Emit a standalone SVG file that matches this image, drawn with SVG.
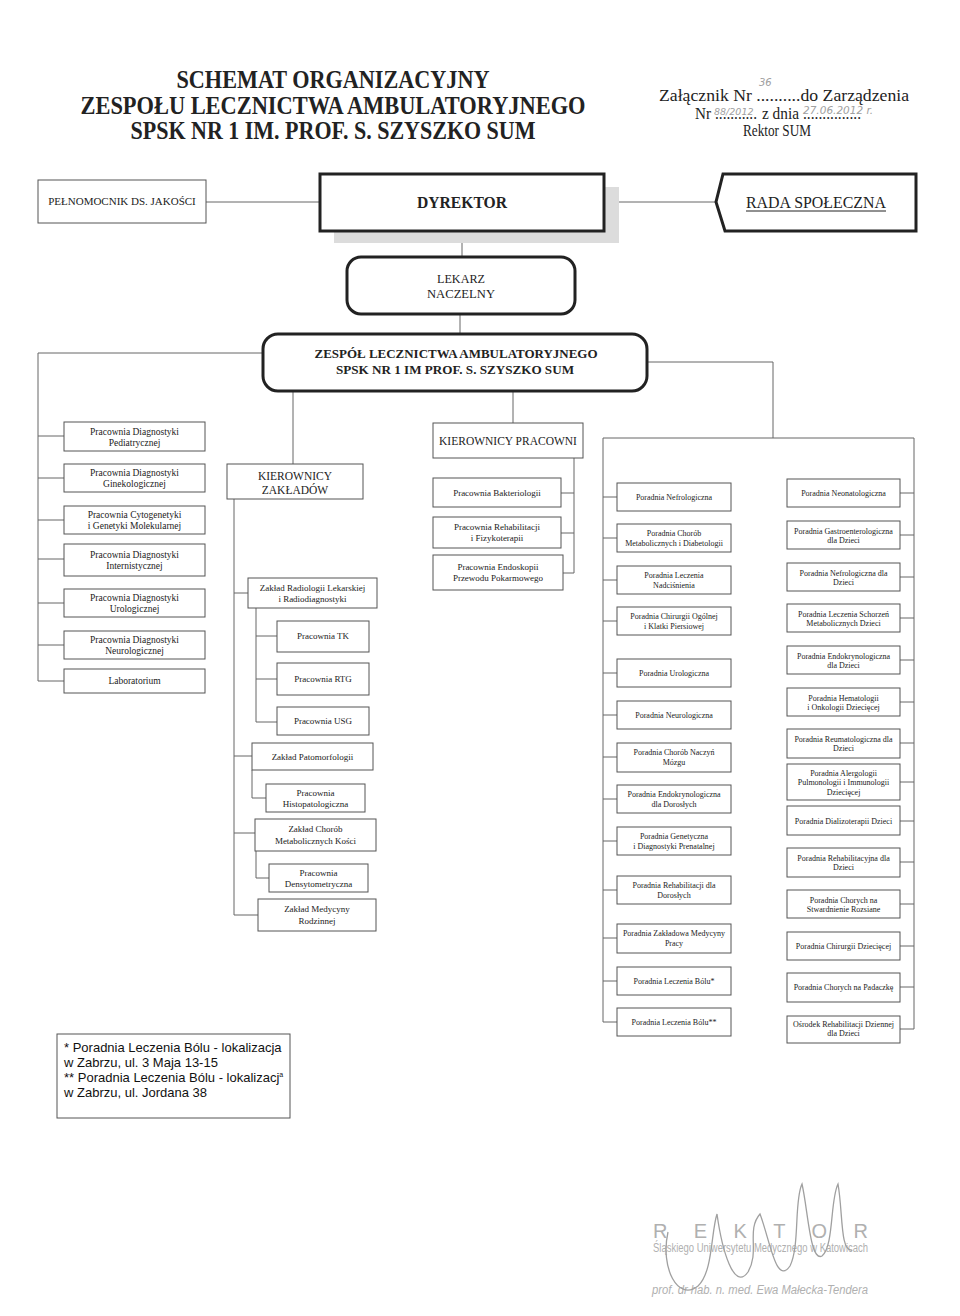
<svg xmlns="http://www.w3.org/2000/svg" width="960" height="1316" viewBox="0 0 960 1316">
<style>
.bx{fill:#fff;stroke:#555;stroke-width:1}
.tk{fill:#fff;stroke:#222;stroke-width:3}
.s{font-family:"Liberation Serif","Times New Roman",serif;fill:#222;text-anchor:middle}
.h{font-family:"Liberation Serif","Times New Roman",serif;fill:#222;font-size:17px}
.f8{font-size:8px}.f9{font-size:9px}.f95{font-size:9.5px}
.c line,.c polyline{stroke:#666;stroke-width:1;fill:none}
.hw{font-family:"DejaVu Sans",sans-serif;font-style:italic;fill:#a0a0a0}
.st{font-family:"Liberation Sans",Arial,sans-serif;fill:#b0b0b0}
</style>
<rect width="960" height="1316" fill="#fff"/>
<g id="header">
<text class="s" x="333" y="88" font-size="25" font-weight="bold" textLength="313" lengthAdjust="spacingAndGlyphs">SCHEMAT  ORGANIZACYJNY</text>
<text class="s" x="333" y="114" font-size="25" font-weight="bold" textLength="505" lengthAdjust="spacingAndGlyphs">ZESPOŁU LECZNICTWA AMBULATORYJNEGO</text>
<text class="s" x="333" y="139" font-size="25" font-weight="bold" textLength="405" lengthAdjust="spacingAndGlyphs">SPSK NR 1 IM. PROF. S. SZYSZKO SUM</text>
<text class="s" x="784" y="101" font-size="17" textLength="250" lengthAdjust="spacingAndGlyphs">Załącznik Nr ..........do Zarządzenia</text>
<text class="h" x="695" y="119" textLength="16" lengthAdjust="spacingAndGlyphs">Nr</text>
<text class="h" x="715" y="119" textLength="42" lengthAdjust="spacingAndGlyphs">...........</text>
<text class="h" x="762" y="119" textLength="37" lengthAdjust="spacingAndGlyphs">z dnia</text>
<text class="h" x="803" y="119" textLength="58" lengthAdjust="spacingAndGlyphs">...............</text>
<text class="s" x="777" y="136" font-size="17" textLength="68" lengthAdjust="spacingAndGlyphs">Rektor SUM</text>
<text class="hw" x="759" y="86" font-size="10">36</text>
<text class="hw" x="714" y="115" font-size="9.5">88/2012</text>
<text class="hw" x="803" y="114" font-size="10.5">27.06.2012 r.</text>
</g>
<g class="c" id="connectors">
<line x1="206" y1="202" x2="320" y2="202"/>
<line x1="604" y1="202" x2="716" y2="202"/>
<line x1="462" y1="243" x2="462" y2="257"/>
<line x1="460" y1="314" x2="460" y2="334"/>
<polyline points="263,353 38,353 38,681"/>
<polyline points="647,362 773,362 773,438"/>
<line x1="603" y1="438" x2="914" y2="438"/>
<line x1="603" y1="438" x2="603" y2="1022"/>
<line x1="914" y1="438" x2="914" y2="1029"/>
<line x1="293" y1="391" x2="293" y2="464"/>
<line x1="513" y1="391" x2="513" y2="423"/>
<line x1="38" y1="436" x2="64" y2="436"/>
<line x1="38" y1="478" x2="64" y2="478"/>
<line x1="38" y1="520" x2="64" y2="520"/>
<line x1="38" y1="559" x2="64" y2="559"/>
<line x1="38" y1="603" x2="64" y2="603"/>
<line x1="38" y1="645" x2="64" y2="645"/>
<line x1="38" y1="681" x2="64" y2="681"/>
<line x1="234" y1="499" x2="234" y2="915"/>
<line x1="234" y1="593" x2="248" y2="593"/>
<line x1="234" y1="756" x2="252" y2="756"/>
<line x1="234" y1="833" x2="255" y2="833"/>
<line x1="234" y1="915" x2="258" y2="915"/>
<line x1="256" y1="608" x2="256" y2="722"/>
<line x1="256" y1="636" x2="277" y2="636"/>
<line x1="256" y1="679" x2="277" y2="679"/>
<line x1="256" y1="722" x2="277" y2="722"/>
<line x1="252" y1="770" x2="252" y2="798"/>
<line x1="252" y1="798" x2="266" y2="798"/>
<line x1="256" y1="851" x2="256" y2="878"/>
<line x1="256" y1="878" x2="269" y2="878"/>
<line x1="574" y1="458" x2="574" y2="573"/>
<line x1="561" y1="493" x2="574" y2="493"/>
<line x1="561" y1="533" x2="574" y2="533"/>
<line x1="563" y1="573" x2="574" y2="573"/>
<line x1="603" y1="497" x2="617" y2="497"/>
<line x1="603" y1="538" x2="617" y2="538"/>
<line x1="603" y1="580" x2="617" y2="580"/>
<line x1="603" y1="621" x2="617" y2="621"/>
<line x1="603" y1="673" x2="617" y2="673"/>
<line x1="603" y1="715" x2="617" y2="715"/>
<line x1="603" y1="757" x2="617" y2="757"/>
<line x1="603" y1="799" x2="617" y2="799"/>
<line x1="603" y1="841" x2="617" y2="841"/>
<line x1="603" y1="890" x2="617" y2="890"/>
<line x1="603" y1="938" x2="617" y2="938"/>
<line x1="603" y1="981" x2="617" y2="981"/>
<line x1="603" y1="1022" x2="617" y2="1022"/>
<line x1="900" y1="493" x2="914" y2="493"/>
<line x1="900" y1="535" x2="914" y2="535"/>
<line x1="900" y1="577" x2="914" y2="577"/>
<line x1="900" y1="618" x2="914" y2="618"/>
<line x1="900" y1="660" x2="914" y2="660"/>
<line x1="900" y1="702" x2="914" y2="702"/>
<line x1="900" y1="743" x2="914" y2="743"/>
<line x1="900" y1="782" x2="914" y2="782"/>
<line x1="900" y1="821" x2="914" y2="821"/>
<line x1="900" y1="862" x2="914" y2="862"/>
<line x1="900" y1="904" x2="914" y2="904"/>
<line x1="900" y1="946" x2="914" y2="946"/>
<line x1="900" y1="987" x2="914" y2="987"/>
<line x1="900" y1="1029" x2="914" y2="1029"/>
</g>
<g id="pelnomocnik"><rect class="bx" x="38" y="180" width="168" height="43"/><text class="s" x="122" y="205" font-size="11">PEŁNOMOCNIK DS. JAKOŚCI</text></g>
<g id="dyrektor"><rect x="334" y="187" width="285" height="56" fill="#dcdcdc"/><rect class="tk" x="320" y="174" width="284" height="57"/><text class="s" x="462" y="208" font-size="17" font-weight="bold" textLength="90" lengthAdjust="spacingAndGlyphs">DYREKTOR</text></g>
<g id="rada"><polygon class="tk" points="723,174 916,174 916,231 725,231 716,202"/><text class="s" x="816" y="208" font-size="17" textLength="140" lengthAdjust="spacingAndGlyphs">RADA  SPOŁECZNA</text><line x1="746" y1="211" x2="886" y2="211" stroke="#222" stroke-width="1"/></g>
<g id="lekarz"><rect class="tk" x="347" y="257" width="228" height="57" rx="14"/><text class="s" x="461" y="283" font-size="13" textLength="48" lengthAdjust="spacingAndGlyphs">LEKARZ</text><text class="s" x="461" y="298" font-size="13" textLength="68" lengthAdjust="spacingAndGlyphs">NACZELNY</text></g>
<g id="zespol"><rect class="tk" x="263" y="334" width="384" height="57" rx="15"/><text class="s" x="456" y="358" font-size="13" font-weight="bold" textLength="283" lengthAdjust="spacingAndGlyphs">ZESPÓŁ LECZNICTWA AMBULATORYJNEGO</text><text class="s" x="455" y="374" font-size="13" font-weight="bold" textLength="238" lengthAdjust="spacingAndGlyphs">SPSK NR 1 IM PROF. S. SZYSZKO SUM</text></g>

<g id="l1"><rect class="bx" x="64" y="422" width="141" height="29"/><text class="s f95" x="134.5" y="435">Pracownia Diagnostyki</text><text class="s f95" x="134.5" y="446">Pediatrycznej</text></g>
<g id="l2"><rect class="bx" x="64" y="464" width="141" height="28"/><text class="s f95" x="134.5" y="476">Pracownia Diagnostyki</text><text class="s f95" x="134.5" y="487">Ginekologicznej</text></g>
<g id="l3"><rect class="bx" x="64" y="506" width="141" height="28"/><text class="s f95" x="134.5" y="518">Pracownia Cytogenetyki</text><text class="s f95" x="134.5" y="529">i Genetyki Molekularnej</text></g>
<g id="l4"><rect class="bx" x="64" y="544" width="141" height="32"/><text class="s f95" x="134.5" y="558">Pracownia Diagnostyki</text><text class="s f95" x="134.5" y="569">Internistycznej</text></g>
<g id="l5"><rect class="bx" x="64" y="589" width="141" height="28"/><text class="s f95" x="134.5" y="601">Pracownia Diagnostyki</text><text class="s f95" x="134.5" y="612">Urologicznej</text></g>
<g id="l6"><rect class="bx" x="64" y="631" width="141" height="28"/><text class="s f95" x="134.5" y="643">Pracownia Diagnostyki</text><text class="s f95" x="134.5" y="654">Neurologicznej</text></g>
<g id="l7"><rect class="bx" x="64" y="669" width="141" height="24"/><text class="s f95" x="134.5" y="684">Laboratorium</text></g>

<g id="kz"><rect class="bx" x="227" y="464" width="136" height="35"/><text class="s" x="295" y="480" font-size="11.5">KIEROWNICY</text><text class="s" x="295" y="494" font-size="11.5">ZAKŁADÓW</text></g>
<g id="z1"><rect class="bx" x="248" y="578" width="129" height="30"/><text class="s f9" x="312.5" y="591">Zakład Radiologii Lekarskiej</text><text class="s f9" x="312.5" y="602">i Radiodiagnostyki</text></g>
<g id="z1a"><rect class="bx" x="277" y="621" width="92" height="31"/><text class="s f9" x="323" y="639">Pracownia TK</text></g>
<g id="z1b"><rect class="bx" x="277" y="663" width="92" height="32"/><text class="s f9" x="323" y="682">Pracownia RTG</text></g>
<g id="z1c"><rect class="bx" x="277" y="707" width="92" height="28"/><text class="s f9" x="323" y="724">Pracownia USG</text></g>
<g id="z2"><rect class="bx" x="252" y="743" width="121" height="27"/><text class="s f9" x="312.5" y="760">Zakład Patomorfologii</text></g>
<g id="z2a"><rect class="bx" x="266" y="784" width="99" height="28"/><text class="s f9" x="315.5" y="796">Pracownia</text><text class="s f9" x="315.5" y="807">Histopatologiczna</text></g>
<g id="z3"><rect class="bx" x="255" y="819" width="121" height="32"/><text class="s f9" x="315.5" y="832">Zakład Chorób</text><text class="s f9" x="315.5" y="844">Metabolicznych Kości</text></g>
<g id="z3a"><rect class="bx" x="269" y="864" width="99" height="28"/><text class="s f9" x="318.5" y="876">Pracownia</text><text class="s f9" x="318.5" y="887">Densytometryczna</text></g>
<g id="z4"><rect class="bx" x="258" y="899" width="118" height="32"/><text class="s f9" x="317" y="912">Zakład Medycyny</text><text class="s f9" x="317" y="924">Rodzinnej</text></g>

<g id="kp"><rect class="bx" x="433" y="423" width="150" height="35"/><text class="s" x="508" y="445" font-size="11.5">KIEROWNICY PRACOWNI</text></g>
<g id="p1"><rect class="bx" x="433" y="478" width="128" height="29"/><text class="s f9" x="497" y="496">Pracownia Bakteriologii</text></g>
<g id="p2"><rect class="bx" x="433" y="517" width="128" height="31"/><text class="s f9" x="497" y="530">Pracownia Rehabilitacji</text><text class="s f9" x="497" y="541">i Fizykoterapii</text></g>
<g id="p3"><rect class="bx" x="433" y="555" width="130" height="35"/><text class="s f9" x="498" y="570">Pracownia Endoskopii</text><text class="s f9" x="498" y="581">Przewodu Pokarmowego</text></g>

<g id="m1"><rect class="bx" x="617" y="483" width="114" height="28"/><text class="s f8" x="674" y="500">Poradnia Nefrologiczna</text></g>
<g id="m2"><rect class="bx" x="617" y="524" width="114" height="28"/><text class="s f8" x="674" y="536">Poradnia Chorób</text><text class="s f8" x="674" y="546">Metabolicznych i Diabetologii</text></g>
<g id="m3"><rect class="bx" x="617" y="566" width="114" height="28"/><text class="s f8" x="674" y="578">Poradnia Leczenia</text><text class="s f8" x="674" y="588">Nadciśnienia</text></g>
<g id="m4"><rect class="bx" x="617" y="607" width="114" height="28"/><text class="s f8" x="674" y="619">Poradnia Chirurgii Ogólnej</text><text class="s f8" x="674" y="629">i Klatki Piersiowej</text></g>
<g id="m5"><rect class="bx" x="617" y="659" width="114" height="28"/><text class="s f8" x="674" y="676">Poradnia Urologiczna</text></g>
<g id="m6"><rect class="bx" x="617" y="701" width="114" height="28"/><text class="s f8" x="674" y="718">Poradnia Neurologiczna</text></g>
<g id="m7"><rect class="bx" x="617" y="743" width="114" height="29"/><text class="s f8" x="674" y="755">Poradnia Chorób Naczyń</text><text class="s f8" x="674" y="765">Mózgu</text></g>
<g id="m8"><rect class="bx" x="617" y="785" width="114" height="28"/><text class="s f8" x="674" y="797">Poradnia Endokrynologiczna</text><text class="s f8" x="674" y="807">dla  Dorosłych</text></g>
<g id="m9"><rect class="bx" x="617" y="827" width="114" height="28"/><text class="s f8" x="674" y="839">Poradnia Genetyczna</text><text class="s f8" x="674" y="849">i Diagnostyki Prenatalnej</text></g>
<g id="m10"><rect class="bx" x="617" y="876" width="114" height="28"/><text class="s f8" x="674" y="888">Poradnia Rehabilitacji dla</text><text class="s f8" x="674" y="898">Dorosłych</text></g>
<g id="m11"><rect class="bx" x="617" y="924" width="114" height="29"/><text class="s f8" x="674" y="936">Poradnia Zakładowa Medycyny</text><text class="s f8" x="674" y="946">Pracy</text></g>
<g id="m12"><rect class="bx" x="617" y="967" width="114" height="28"/><text class="s f8" x="674" y="984">Poradnia Leczenia Bólu*</text></g>
<g id="m13"><rect class="bx" x="617" y="1008" width="114" height="28"/><text class="s f8" x="674" y="1025">Poradnia Leczenia Bólu**</text></g>

<g id="r1"><rect class="bx" x="787" y="479" width="113" height="28"/><text class="s f8" x="843.5" y="496">Poradnia Neonatologiczna</text></g>
<g id="r2"><rect class="bx" x="787" y="521" width="113" height="28"/><text class="s f8" x="843.5" y="533.5">Poradnia Gastroenterologiczna</text><text class="s f8" x="843.5" y="543">dla Dzieci</text></g>
<g id="r3"><rect class="bx" x="787" y="563" width="113" height="28"/><text class="s f8" x="843.5" y="575.5">Poradnia Nefrologiczna dla</text><text class="s f8" x="843.5" y="585">Dzieci</text></g>
<g id="r4"><rect class="bx" x="787" y="604" width="113" height="28"/><text class="s f8" x="843.5" y="616.5">Poradnia Leczenia Schorzeń</text><text class="s f8" x="843.5" y="626">Metabolicznych Dzieci</text></g>
<g id="r5"><rect class="bx" x="787" y="646" width="113" height="28"/><text class="s f8" x="843.5" y="658.5">Poradnia Endokrynologiczna</text><text class="s f8" x="843.5" y="668">dla Dzieci</text></g>
<g id="r6"><rect class="bx" x="787" y="688" width="113" height="28"/><text class="s f8" x="843.5" y="700.5">Poradnia Hematologii</text><text class="s f8" x="843.5" y="710">i Onkologii Dziecięcej</text></g>
<g id="r7"><rect class="bx" x="787" y="729" width="113" height="29"/><text class="s f8" x="843.5" y="741.5">Poradnia Reumatologiczna dla</text><text class="s f8" x="843.5" y="751">Dzieci</text></g>
<g id="r8"><rect class="bx" x="787" y="764" width="113" height="36"/><text class="s f8" x="843.5" y="776">Poradnia Alergologii</text><text class="s f8" x="843.5" y="785">Pulmonologii i Immunologii</text><text class="s f8" x="843.5" y="795">Dziecięcej</text></g>
<g id="r9"><rect class="bx" x="787" y="806" width="113" height="29"/><text class="s f8" x="843.5" y="824">Poradnia Dializoterapii Dzieci</text></g>
<g id="r10"><rect class="bx" x="787" y="848" width="113" height="29"/><text class="s f8" x="843.5" y="860.5">Poradnia Rehabilitacyjna dla</text><text class="s f8" x="843.5" y="870">Dzieci</text></g>
<g id="r11"><rect class="bx" x="787" y="890" width="113" height="28"/><text class="s f8" x="843.5" y="902.5">Poradnia Chorych na</text><text class="s f8" x="843.5" y="912">Stwardnienie Rozsiane</text></g>
<g id="r12"><rect class="bx" x="787" y="932" width="113" height="28"/><text class="s f8" x="843.5" y="949">Poradnia Chirurgii Dziecięcej</text></g>
<g id="r13"><rect class="bx" x="787" y="973" width="113" height="29"/><text class="s f8" x="843.5" y="990">Poradnia Chorych na Padaczkę</text></g>
<g id="r14"><rect class="bx" x="787" y="1016" width="113" height="27"/><text class="s f8" x="843.5" y="1027">Ośrodek Rehabilitacji Dziennej</text><text class="s f8" x="843.5" y="1036">dla Dzieci</text></g>

<g id="footnote"><rect class="bx" x="57" y="1034" width="233" height="84"/>
<g font-family="Liberation Sans, Arial, sans-serif" font-size="13" fill="#111">
<text x="64" y="1052">* Poradnia Leczenia Bólu - lokalizacja</text>
<text x="64" y="1067">w Zabrzu, ul. 3 Maja 13-15</text>
<text x="64" y="1082">** Poradnia Leczenia Bólu - lokalizacj<tspan font-size="7" dy="-5">a</tspan></text>
<text x="64" y="1097">w Zabrzu, ul. Jordana 38</text>
</g></g>
<g id="stamp">
<text class="st" x="653" y="1238" font-size="20" textLength="215" lengthAdjust="spacing">REKTOR</text>
<text class="st" x="653" y="1252" font-size="12.5" textLength="215" lengthAdjust="spacingAndGlyphs">Śląskiego Uniwersytetu Medycznego w Katowicach</text>
<text class="st" x="652" y="1294" font-size="12.5" font-style="italic" textLength="216" lengthAdjust="spacingAndGlyphs">prof. dr hab. n. med. Ewa Małecka-Tendera</text>
<path d="M668 1232 C660 1268 678 1302 698 1286 C713 1272 711 1232 717 1214 C722 1250 734 1292 748 1272 C760 1252 746 1230 760 1214 C770 1240 776 1286 790 1266 C800 1246 794 1200 802 1184 C808 1210 810 1262 822 1256 C834 1246 830 1200 838 1184 C843 1212 840 1252 852 1250" fill="none" stroke="#a0a0a0" stroke-width="1.3"/>
</g>
</svg>
